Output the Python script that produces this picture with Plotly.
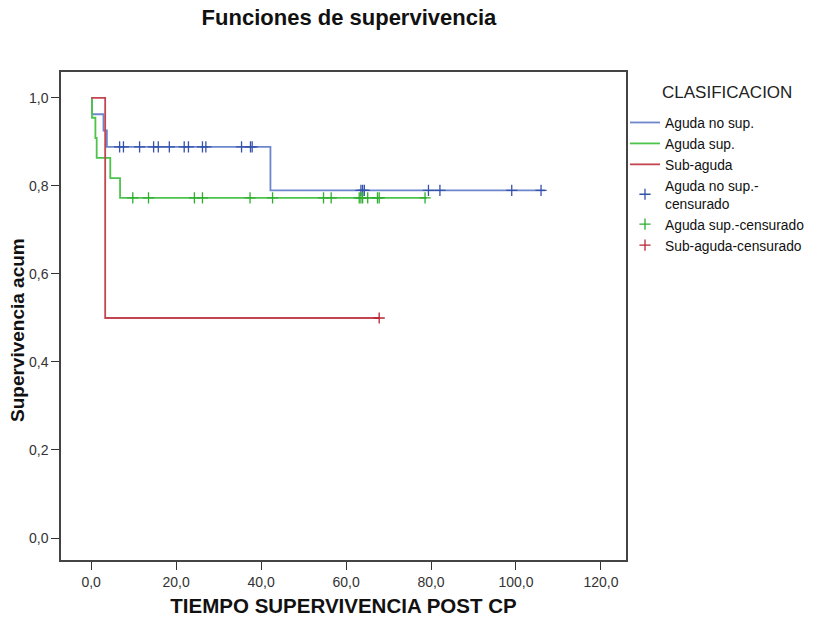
import plotly.graph_objects as go

# Step curves (time, cumulative survival)
blue_t = [0, 0.2, 2.9, 3.7, 42.2, 106.8]
blue_s = [1.0, 0.963, 0.926, 0.889, 0.790, 0.790]
green_t = [0, 0.2, 1.0, 1.3, 4.5, 6.8, 79.0]
green_s = [1.0, 0.955, 0.909, 0.864, 0.818, 0.773, 0.773]
red_t = [0, 3.3, 67.8]
red_s = [1.0, 0.5, 0.5]

# Censored observations
blue_ct = [6.7, 7.6, 11.4, 14.7, 15.8, 18.4, 21.9, 22.9, 26.2, 27.0, 35.4, 37.5, 37.9,
           63.5, 63.9, 64.3, 79.4, 82.1, 99.0, 105.9]
blue_cs = [0.889] * 13 + [0.790] * 7
green_ct = [9.8, 13.5, 24.3, 26.2, 37.4, 42.7, 54.7, 56.5, 63.1, 63.5, 63.9, 65.1,
            67.4, 67.8, 78.6]
green_cs = [0.773] * 15
red_ct = [67.8]
red_cs = [0.5]

x_ticks = [0, 20, 40, 60, 80, 100, 120]
x_labels = ["0,0", "20,0", "40,0", "60,0", "80,0", "100,0", "120,0"]
y_ticks = [0, 0.2, 0.4, 0.6, 0.8, 1.0]
y_labels = ["0,0", "0,2", "0,4", "0,6", "0,8", "1,0"]

c_blue, c_blue_m = "#6e86cc", "#3552ab"
c_green, c_green_m = "#4cc44c", "#2fae2f"
c_red, c_red_m = "#c4454f", "#b82533"

fig = go.Figure()
fig.add_trace(go.Scatter(x=blue_t, y=blue_s, mode="lines", line_shape="hv",
                         line=dict(color=c_blue, width=1.8), name="Aguda no sup."))
fig.add_trace(go.Scatter(x=green_t, y=green_s, mode="lines", line_shape="hv",
                         line=dict(color=c_green, width=1.8), name="Aguda sup."))
fig.add_trace(go.Scatter(x=red_t, y=red_s, mode="lines", line_shape="hv",
                         line=dict(color=c_red, width=1.8), name="Sub-aguda"))
fig.add_trace(go.Scatter(x=blue_ct, y=blue_cs, mode="markers",
                         marker=dict(symbol="cross-thin", size=8, line=dict(color=c_blue_m, width=1.3)),
                         name="Aguda no sup.-<br>censurado"))
fig.add_trace(go.Scatter(x=green_ct, y=green_cs, mode="markers",
                         marker=dict(symbol="cross-thin", size=8, line=dict(color=c_green_m, width=1.3)),
                         name="Aguda sup.-censurado"))
fig.add_trace(go.Scatter(x=red_ct, y=red_cs, mode="markers",
                         marker=dict(symbol="cross-thin", size=8, line=dict(color=c_red_m, width=1.3)),
                         name="Sub-aguda-censurado"))

fig.update_layout(
    width=823, height=621,
    margin=dict(l=61, r=197, t=72, b=61, autoexpand=False),
    paper_bgcolor="white", plot_bgcolor="white",
    font=dict(family="Liberation Sans, Arial, sans-serif", color="#222"),
    title=dict(text="<b>Funciones de supervivencia</b>", x=0.424, xanchor="center",
               y=0.972, yanchor="middle", font=dict(size=22, color="#111")),
    legend=dict(x=(625 - 61) / 565, xanchor="left", y=(560 - 107) / 488, yanchor="top",
                font=dict(size=13.8, color="#111"), tracegroupgap=0,
                bgcolor="rgba(0,0,0,0)", itemwidth=30),
    annotations=[
        dict(text="CLASIFICACION", xref="paper", yref="paper",
             x=(660 - 61) / 565, y=(560 - 92) / 488, xanchor="left", yanchor="middle",
             showarrow=False, font=dict(size=17, color="#222")),
        dict(text="<b>Supervivencia acum</b>", xref="paper", yref="paper",
             x=(17 - 61) / 565, y=(560 - 330) / 488, xanchor="center", yanchor="middle",
             textangle=-90, showarrow=False, font=dict(size=19, color="#111")),
    ],
    xaxis=dict(range=[-7.1, 125.9], tickvals=x_ticks, ticktext=x_labels,
               ticks="outside", ticklen=8, tickcolor="#333",
               showline=True, linecolor="#444", linewidth=1.5, mirror=True,
               showgrid=False, zeroline=False,
               tickfont=dict(family="Liberation Sans Narrow, Liberation Sans, Arial", size=14, color="#333"),
               title=dict(text="<b>TIEMPO SUPERVIVENCIA POST CP</b>",
                          font=dict(size=20.5, color="#111"), standoff=10)),
    yaxis=dict(range=[-0.05, 1.059], tickvals=y_ticks, ticktext=y_labels,
               ticks="outside", ticklen=8, tickcolor="#333",
               showline=True, linecolor="#444", linewidth=1.5, mirror=True,
               showgrid=False, zeroline=False,
               tickfont=dict(family="Liberation Sans Narrow, Liberation Sans, Arial", size=14, color="#333")),
)

fig.write_html("out.html")
